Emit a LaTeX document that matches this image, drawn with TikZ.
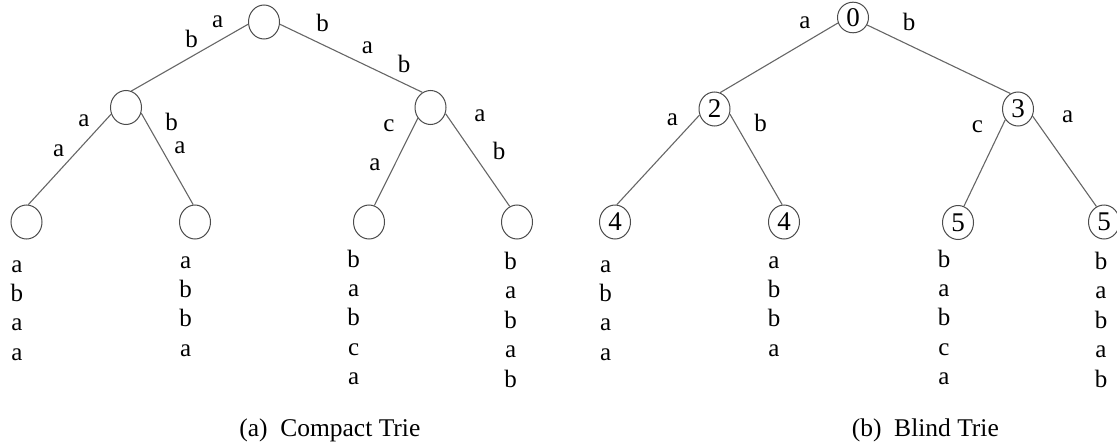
\documentclass[tikz,border=0pt]{standalone}
\usepackage{fontspec}
\setmainfont{Liberation Serif}
\usetikzlibrary{shapes.geometric}
\begin{document}
\begin{tikzpicture}[x=0.5pt,y=-0.5pt,
  tnode/.style={ellipse, draw=black!70, line width=0.5pt, minimum width=15.5pt, minimum height=17pt, inner sep=0pt, font=\fontsize{13.5}{16}\selectfont},
  treeedge/.style={draw=black!60, line width=0.55pt},
  lbl/.style={anchor=base, inner sep=0pt, font=\fontsize{12.5}{15}\selectfont},
  captext/.style={anchor=base, inner sep=0pt, font=\fontsize{12.75}{15}\selectfont}]
\useasboundingbox (0,0) rectangle (1117,444);
% ---------- (a) Compact Trie ----------
\node[tnode] (ra) at (264,22) {};
\node[tnode] (aa) at (126,107.5) {};
\node[tnode] (ba) at (430.5,107.5) {};
\node[tnode] (l1a) at (26.5,222) {};
\node[tnode] (l2a) at (195,222) {};
\node[tnode] (l3a) at (369,222) {};
\node[tnode] (l4a) at (517,222) {};
\draw[treeedge] (ra.188) -- (aa.72);
\draw[treeedge] (ra.-8) -- (ba.118);
\draw[treeedge] (aa.204) -- (l1a.84);
\draw[treeedge] (aa.-20) -- (l2a.96);
\draw[treeedge] (ba.220) -- (l3a.72);
\draw[treeedge] (ba.-22) -- (l4a.115);
\node[lbl] (ea1) at (217.7,27.2) {a};
\node[lbl] (ea2) at (191.7,47.5) {b};
\node[lbl] (ea3) at (322.7,31.5) {b};
\node[lbl] (ea4) at (367.3,53.8) {a};
\node[lbl] (ea5) at (404,72.5) {b};
\node[lbl] (ea6) at (84,126.2) {a};
\node[lbl] (ea7) at (58.7,156.2) {a};
\node[lbl] (ea8) at (171.7,130.8) {b};
\node[lbl] (ea9) at (180,153.8) {a};
\node[lbl] (ea10) at (389,131.5) {c};
\node[lbl] (ea11) at (375,170.5) {a};
\node[lbl] (ea12) at (480,121) {a};
\node[lbl] (ea13) at (499,159.3) {b};
\foreach \ch [count=\i] in {a,b,a,a}
  \node[lbl] (sa1-\i) at (16.8,{272+29.4*(\i-1)}) {\ch};
\foreach \ch [count=\i] in {a,b,b,a}
  \node[lbl] (sa2-\i) at (185.7,{268+29.4*(\i-1)}) {\ch};
\foreach \ch [count=\i] in {b,a,b,c,a}
  \node[lbl] (sa3-\i) at (353.6,{267.5+29.2*(\i-1)}) {\ch};
\foreach \ch [count=\i] in {b,a,b,a,b}
  \node[lbl] (sa4-\i) at (510.7,{269+29.6*(\i-1)}) {\ch};
\node[captext] (capa) at (329.8,436) {(a)\hspace{0.5em}Compact Trie};
% ---------- (b) Blind Trie ----------
\node[tnode, minimum height=15.3pt] (rb) at (853,17.5) {0};
\node[tnode] (ab) at (714.5,109) {2};
\node[tnode] (bb) at (1018,109) {3};
\node[tnode] (l1b) at (615,222) {4};
\node[tnode] (l2b) at (784,222) {4};
\node[tnode] (l3b) at (958,222.5) {5};
\node[tnode] (l4b) at (1104,222) {5};
\draw[treeedge] (rb.200) -- (ab.71);
\draw[treeedge] (rb.-28) -- (bb.116);
\draw[treeedge] (ab.202) -- (l1b.84);
\draw[treeedge] (ab.-18) -- (l2b.96);
\draw[treeedge] (bb.220) -- (l3b.70);
\draw[treeedge] (bb.-26) -- (l4b.116);
\node[lbl] (eb1) at (805,28.2) {a};
\node[lbl] (eb2) at (909,30.5) {b};
\node[lbl] (eb3) at (672.5,126) {a};
\node[lbl] (eb4) at (760.7,131.3) {b};
\node[lbl] (eb5) at (977.3,132.8) {c};
\node[lbl] (eb6) at (1067.7,122.8) {a};
\foreach \ch [count=\i] in {a,b,a,a}
  \node[lbl] (sb1-\i) at (605.7,{272+29.4*(\i-1)}) {\ch};
\foreach \ch [count=\i] in {a,b,b,a}
  \node[lbl] (sb2-\i) at (774,{268+29.4*(\i-1)}) {\ch};
\foreach \ch [count=\i] in {b,a,b,c,a}
  \node[lbl] (sb3-\i) at (944,{267.5+29.2*(\i-1)}) {\ch};
\foreach \ch [count=\i] in {b,a,b,a,b}
  \node[lbl] (sb4-\i) at (1101,{269+29.6*(\i-1)}) {\ch};
\node[captext] (capb) at (925.3,436) {(b)\hspace{0.5em}Blind Trie};
\end{tikzpicture}
\end{document}
